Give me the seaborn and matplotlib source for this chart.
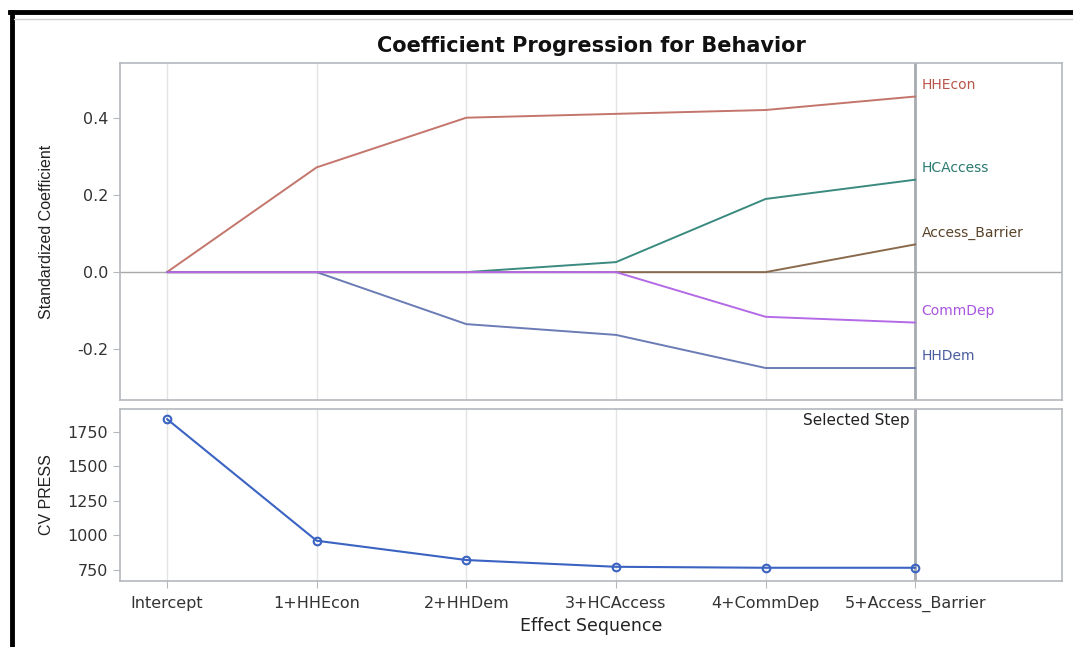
import matplotlib
matplotlib.use('Agg')
import matplotlib.pyplot as plt
from matplotlib.lines import Line2D
import seaborn as sns
import pandas as pd

steps = ['Intercept', '1+HHEcon', '2+HHDem', '3+HCAccess', '4+CommDep', '5+Access_Barrier']
effects = ['HHEcon', 'HHDem', 'HCAccess', 'Access_Barrier', 'CommDep']
hhecon = [0.0, 0.272, 0.401, 0.411, 0.421, 0.456]
hhdem = [0.0, 0.0, -0.135, -0.163, -0.249, -0.249]
hcaccess = [0.0, 0.0, 0.0, 0.026, 0.190, 0.240]
access_barrier = [0.0, 0.0, 0.0, 0.0, 0.0, 0.072]
commdep = [0.0, 0.0, 0.0, 0.0, -0.116, -0.131]
cv_press = [1844, 962, 822, 773, 766, 766]

line_colors = {'HHEcon': '#c4756b', 'HHDem': '#6b7bb5', 'HCAccess': '#3a8a80',
               'Access_Barrier': '#8a6a4c', 'CommDep': '#b46ae6'}
text_colors = {'HHEcon': '#b8564a', 'HHDem': '#4a5c9e', 'HCAccess': '#2a7a70',
               'Access_Barrier': '#5a4228', 'CommDep': '#a855e0'}

coef = pd.DataFrame({
    'step': list(range(len(steps))) * len(effects),
    'effect': [e for e in effects for _ in steps],
    'value': hhecon + hhdem + hcaccess + access_barrier + commdep,
})
press = pd.DataFrame({'step': range(len(steps)), 'cv': cv_press})

sns.set_style('white')
plt.rcParams['font.family'] = ['DejaVu Sans']
narrow = ['Liberation Sans', 'DejaVu Sans']

fig = plt.figure(figsize=(10.73, 6.47), dpi=100)
ax1 = fig.add_axes([0.1118, 0.3818, 0.8779, 0.5208])
ax2 = fig.add_axes([0.1118, 0.1020, 0.8779, 0.2659])

spine_col = '#b4b8bc'
grid_col = '#e4e4e4'
sel = 5

for ax in (ax1, ax2):
    for x in range(len(steps)):
        ax.axvline(x, color=grid_col, lw=1, zorder=0)
    ax.axvline(sel, color='#a8acb0', lw=2, zorder=1)
    for s in ax.spines.values():
        s.set_color(spine_col)
        s.set_linewidth(1.2)
    ax.set_xlim(-0.314, 5.98)
    ax.tick_params(axis='both', direction='out', length=5, color=spine_col,
                   labelsize=11.5, labelcolor='#333333', left=True, bottom=True)

ax1.axhline(0, color='#a8a8a8', lw=1, zorder=1)
sns.lineplot(data=coef, x='step', y='value', hue='effect', hue_order=effects,
             palette=line_colors, legend=False, lw=1.4, ax=ax1, zorder=3)
for name, vals in zip(effects, [hhecon, hhdem, hcaccess, access_barrier, commdep]):
    ax1.annotate(name, xy=(sel, vals[-1]), xytext=(4.5, 8.5), textcoords='offset points',
                 color=text_colors[name], fontsize=10, ha='left', va='center')
ax1.set_ylim(-0.332, 0.543)
ax1.set_yticks([-0.2, 0.0, 0.2, 0.4])
ax1.set_yticklabels(['-0.2', '0.0', '0.2', '0.4'])
ax1.set_xticks(range(len(steps)))
ax1.tick_params(axis='x', bottom=False, labelbottom=False)
ax1.set_xlabel('')
ax1.set_ylabel('Standardized Coefficient', fontsize=11.5, color='#222222', family=narrow)
ax1.set_title('Coefficient Progression for Behavior', fontsize=15,
              fontweight='bold', color='#111111', pad=8)

sns.lineplot(data=press, x='step', y='cv', color='#3a63c2', lw=1.5, marker='o',
             markersize=5.5, markerfacecolor='none', markeredgecolor='#3a63c2',
             markeredgewidth=1.5, ax=ax2, zorder=3)
ax2.set_ylim(670, 1917)
ax2.set_yticks([750, 1000, 1250, 1500, 1750])
ax2.set_xticks(range(len(steps)))
ax2.set_xticklabels(steps)
ax2.tick_params(axis='x', pad=6)
ax2.set_xlabel('Effect Sequence', fontsize=12.5, color='#222222', labelpad=3)
ax2.set_ylabel('CV PRESS', fontsize=11.5, color='#222222', family=narrow)
ax2.annotate('Selected Step', xy=(sel, 1), xycoords=('data', 'axes fraction'),
             xytext=(-4, -8.5), textcoords='offset points', ha='right', va='center',
             fontsize=11, color='#222222')

for ax in (ax1, ax2):
    ax.yaxis.set_label_coords(-0.07, 0.5)

# screenshot frame
fig.add_artist(Line2D([10 / 1073, 1], [1 - 12 / 647, 1 - 12 / 647], color='black', lw=3.5,
                      solid_capstyle='projecting', transform=fig.transFigure))
fig.add_artist(Line2D([12 / 1073, 12 / 1073], [0, 1 - 12 / 647], color='black', lw=3.5,
                      solid_capstyle='projecting', transform=fig.transFigure))
fig.add_artist(Line2D([14 / 1073, 1], [1 - 19 / 647, 1 - 19 / 647], color='#d0d0d0', lw=1,
                      transform=fig.transFigure))

fig.savefig('out.png', dpi=100, facecolor='white')
